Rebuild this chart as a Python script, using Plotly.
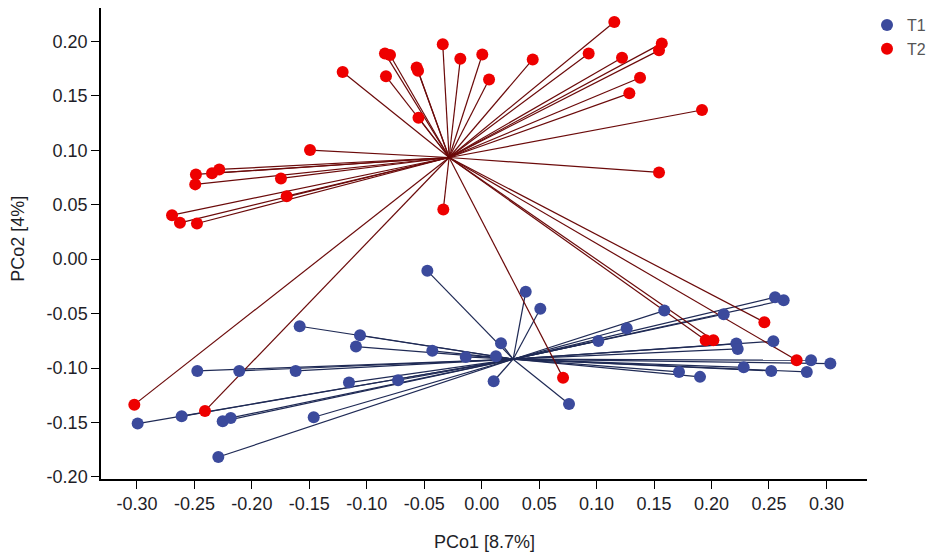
import plotly.graph_objects as go

# PCoA coordinates
t1_x = [-0.0473, -0.1584, -0.1059, -0.1094, -0.0430, -0.0139, -0.2475, -0.2110,
        -0.1619, -0.1155, -0.0728, -0.2994, -0.2611, -0.2254, -0.2184, -0.1462,
        -0.2292, 0.0168, 0.0124, 0.0104, 0.0383, 0.0510, 0.0760, 0.1015, 0.1262,
        0.1589, 0.1717, 0.1900, 0.2106, 0.2216, 0.2228, 0.2280, 0.2520, 0.2538,
        0.2553, 0.2628, 0.2866, 0.2829, 0.3034]
t1_y = [-0.0107, -0.0616, -0.0699, -0.0803, -0.0842, -0.0898, -0.1026, -0.1026,
        -0.1026, -0.1133, -0.1112, -0.1510, -0.1443, -0.1489, -0.1458, -0.1452,
        -0.1817, -0.0772, -0.0892, -0.1121, -0.0300, -0.0456, -0.1330, -0.0751,
        -0.0634, -0.0472, -0.1036, -0.1081, -0.0506, -0.0775, -0.0824, -0.0993,
        -0.1026, -0.0754, -0.0349, -0.0377, -0.0928, -0.1036, -0.0959]

t2_x = [-0.0339, -0.0842, -0.0798, -0.0186, 0.0005, -0.1210, -0.0833, -0.0566,
        -0.0554, -0.0550, -0.1494, -0.2487, -0.2347, -0.2284, -0.2493, -0.1747,
        -0.1697, -0.2695, -0.2626, -0.2478, -0.0334, 0.1154, 0.0064, 0.0444,
        0.0931, 0.1221, 0.1567, 0.1543, 0.1378, 0.1285, 0.1917, 0.1543, -0.3023,
        -0.2408, 0.0708, 0.1949, 0.2016, 0.2460, 0.2741]
t2_y = [0.1973, 0.1890, 0.1875, 0.1840, 0.1880, 0.1720, 0.1680, 0.1760, 0.1730,
        0.1300, 0.1002, 0.0778, 0.0790, 0.0824, 0.0687, 0.0742, 0.0579, 0.0404,
        0.0334, 0.0328, 0.0457, 0.2178, 0.1650, 0.1835, 0.1890, 0.1850, 0.1982,
        0.1918, 0.1667, 0.1523, 0.1370, 0.0797, -0.1336, -0.1394, -0.1088,
        -0.0744, -0.0744, -0.0579, -0.0928]

# tick positions and labels (plain hyphen as in the original)
x_ticks = [-0.30, -0.25, -0.20, -0.15, -0.10, -0.05, 0.00, 0.05, 0.10, 0.15, 0.20, 0.25, 0.30]
y_ticks = [-0.20, -0.15, -0.10, -0.05, 0.00, 0.05, 0.10, 0.15, 0.20]
x_labels = [f"{v:.2f}" for v in x_ticks]
y_labels = [f"{v:.2f}" for v in y_ticks]

groups = [
    ("T1", t1_x, t1_y, "#3b4a9c", "#1f2a55"),
    ("T2", t2_x, t2_y, "#ee0000", "#6b0a0a"),
]

fig = go.Figure()

# spider lines from group centroid to each sample
for name, xs, ys, mcol, lcol in groups:
    cx = sum(xs) / len(xs)
    cy = sum(ys) / len(ys)
    lx, ly = [], []
    for x, y in zip(xs, ys):
        lx += [cx, x, None]
        ly += [cy, y, None]
    fig.add_trace(go.Scatter(x=lx, y=ly, mode="lines",
                             line=dict(color=lcol, width=1.2),
                             showlegend=False, hoverinfo="skip"))

for name, xs, ys, mcol, lcol in groups:
    fig.add_trace(go.Scatter(x=xs, y=ys, mode="markers", name=name,
                             marker=dict(color=mcol, size=12)))

# axis titles as annotations (standoff is ignored without automargin)
fig.add_annotation(text="PCo1 [8.7%]", xref="paper", yref="paper",
                   x=0.5, y=-0.1338, xanchor="center", yanchor="middle",
                   showarrow=False, font=dict(size=18))
fig.add_annotation(text="PCo2 [4%]", xref="paper", yref="paper",
                   x=-0.1084, y=0.51, xanchor="center", yanchor="middle",
                   textangle=-90, showarrow=False, font=dict(size=18))

# page body adds an 8px offset, so the figure is sized to fit the window
fig.update_layout(
    width=937,
    height=546,
    margin=dict(l=93, r=78, t=0, b=75, autoexpand=False),
    plot_bgcolor="white",
    paper_bgcolor="white",
    font=dict(family="Liberation Sans, Arial", size=18, color="#1e1e28"),
    legend=dict(x=1.0, y=1.0, xanchor="left", yanchor="top",
                font=dict(size=16, color="#555555"), itemwidth=30,
                tracegroupgap=0),
    xaxis=dict(
        range=[-0.3313, 0.3353],
        tickvals=x_ticks, ticktext=x_labels,
        showgrid=False, zeroline=False, automargin=False,
        showline=True, linecolor="black", linewidth=1.5,
        ticks="outside", ticklen=8, tickcolor="black",
    ),
    yaxis=dict(
        range=[-0.2019, 0.2307],
        tickvals=y_ticks, ticktext=y_labels,
        showgrid=False, zeroline=False, automargin=False,
        showline=True, linecolor="black", linewidth=1.5,
        ticks="outside", ticklen=8, tickcolor="black",
    ),
)

fig.write_html("out.html")
